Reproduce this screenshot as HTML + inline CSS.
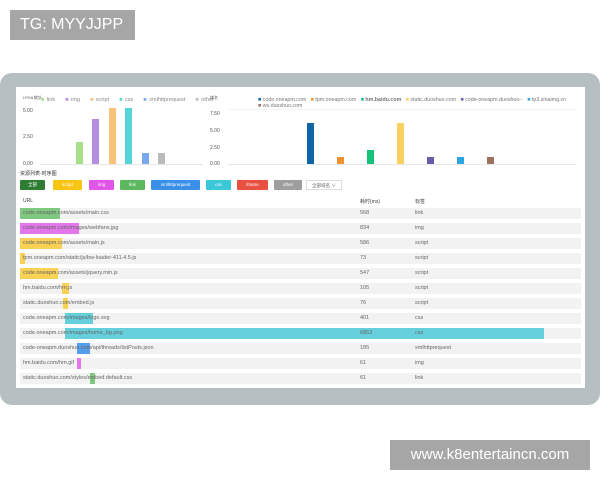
<!DOCTYPE html>
<html><head><meta charset="utf-8"><style>
body{margin:0;width:600px;height:480px;background:#fff;position:relative;overflow:hidden;font-family:"Liberation Sans","Noto Sans CJK SC",sans-serif;}
div{position:absolute;box-sizing:border-box}
.t{font-size:5px;color:#555;white-space:nowrap}
.row{left:20px;width:561px;height:11px;background:#f2f2f2}
.bar{height:11px;opacity:.85}
.rt{font-size:5.5px;color:#666;white-space:nowrap;line-height:11px}
.btn{top:180px;height:10px;font-size:4.5px;color:#fff;text-align:center;line-height:10px;border-radius:1px}
.b{width:7px}
</style></head><body>
<div style="left:10px;top:10px;width:125px;height:30px;background:#a6a6a6;color:#fff;font-size:16px;line-height:30px;padding-left:10px">TG: MYYJJPP</div>
<div style="left:390px;top:440px;width:200px;height:30px;background:#a6a6a6;color:#fff;font-size:15px;line-height:30px;text-align:center">www.k8entertaincn.com</div>
<div style="left:0;top:73px;width:600px;height:332px;background:#b5bfc1;border-radius:12px"></div>
<div style="left:16px;top:87px;width:569px;height:301px;background:#fff"></div>

<!-- left chart -->
<div class="t" style="left:23px;top:95px;font-size:4px">HTML統計</div>
<div class="t" style="left:41px;top:97px;color:#888;font-size:5.5px;word-spacing:1px">
<span style="color:#a8e08a">■</span> link &nbsp;&nbsp;&nbsp;<span style="color:#b58ee0">■</span> img &nbsp;&nbsp;&nbsp;<span style="color:#f8c27a">■</span> script &nbsp;&nbsp;&nbsp;<span style="color:#55d5d8">■</span> css &nbsp;&nbsp;&nbsp;<span style="color:#7aa8ee">■</span> xmlhttprequest &nbsp;&nbsp;&nbsp;<span style="color:#bbb">■</span> other</div>
<div class="t" style="left:23px;top:108px">5.00</div>
<div class="t" style="left:23px;top:134px">2.50</div>
<div class="t" style="left:23px;top:161px">0.00</div>
<div style="left:40px;top:164px;width:163px;height:1px;background:#e5e5e5"></div>
<div class="b" style="left:76px;top:142px;height:22px;background:#a8e08a"></div>
<div class="b" style="left:92px;top:119px;height:45px;background:#b58ee0"></div>
<div class="b" style="left:109px;top:108px;height:56px;background:#f8c27a"></div>
<div class="b" style="left:125px;top:108px;height:56px;background:#55d5d8"></div>
<div class="b" style="left:142px;top:153px;height:11px;background:#7aa8ee"></div>
<div class="b" style="left:158px;top:153px;height:11px;background:#bbb"></div>

<!-- right chart -->
<div class="t" style="left:210px;top:95px;font-size:4px">域名</div>
<div class="t" style="left:258px;top:97px;color:#777;font-size:5.3px">
<span style="color:#1065a8">■</span> code.oneapm.com &nbsp;&nbsp;<span style="color:#f0932f">■</span> tpm.oneapm.com &nbsp;&nbsp;<span style="color:#18c27a">■</span> <b>hm.baidu.com</b> &nbsp;&nbsp;<span style="color:#fcd060">■</span> static.duoshuo.com &nbsp;&nbsp;<span style="color:#6b5aa8">■</span> code-oneapm.duoshuo-- &nbsp;&nbsp;<span style="color:#2ba6e0">■</span> tp3.sinaimg.cn</div>
<div class="t" style="left:258px;top:103px;color:#777;font-size:5.3px"><span style="color:#a0705e">■</span> ws.duoshuo.com</div>
<div class="t" style="left:210px;top:111px">7.50</div>
<div class="t" style="left:210px;top:128px">5.00</div>
<div class="t" style="left:210px;top:145px">2.50</div>
<div class="t" style="left:210px;top:161px">0.00</div>
<div style="left:228px;top:164px;width:348px;height:1px;background:#e5e5e5"></div>
<div style="left:228px;top:109px;width:348px;height:1px;background:#f3f3f3"></div>
<div class="b" style="left:307px;top:123px;height:41px;background:#1065a8"></div>
<div class="b" style="left:337px;top:157px;height:7px;background:#f0932f"></div>
<div class="b" style="left:367px;top:150px;height:14px;background:#18c27a"></div>
<div class="b" style="left:397px;top:123px;height:41px;background:#fcd060"></div>
<div class="b" style="left:427px;top:157px;height:7px;background:#6b5aa8"></div>
<div class="b" style="left:457px;top:157px;height:7px;background:#2ba6e0"></div>
<div class="b" style="left:487px;top:157px;height:7px;background:#a0705e"></div>

<div class="t" style="left:20px;top:170px;font-size:5px;color:#333">资源列表-时序图</div>
<div class="btn" style="left:20px;width:25px;background:#2e7d32">全部</div>
<div class="btn" style="left:53px;width:29px;background:#f9c515">script</div>
<div class="btn" style="left:89px;width:25px;background:#e056e8">img</div>
<div class="btn" style="left:120px;width:25px;background:#5cb85c">link</div>
<div class="btn" style="left:151px;width:49px;background:#3a8fe8">xmlhttprequest</div>
<div class="btn" style="left:206px;width:25px;background:#3ac8d8">css</div>
<div class="btn" style="left:237px;width:31px;background:#e8503f">iframe</div>
<div class="btn" style="left:274px;width:28px;background:#9e9e9e">other</div>
<div class="btn" style="left:306px;width:36px;background:#fff;border:0.5px solid #ddd;color:#666">全部域名 ∨</div>

<div class="t" style="left:23px;top:198px;color:#444">URL</div>
<div class="t" style="left:360px;top:198px;color:#444">耗时(ms)</div>
<div class="t" style="left:415px;top:198px;color:#444">标签</div>

<div class="row" style="top:208px"></div><div class="bar" style="left:20px;top:208px;width:40px;background:#6cbf6c"></div>
<div class="row" style="top:223px"></div><div class="bar" style="left:20px;top:223px;width:59px;background:#e060ea"></div>
<div class="row" style="top:238px"></div><div class="bar" style="left:20px;top:238px;width:42px;background:#f9cb3a"></div>
<div class="row" style="top:253px"></div><div class="bar" style="left:20px;top:253px;width:5px;background:#f9cb3a"></div>
<div class="row" style="top:268px"></div><div class="bar" style="left:20px;top:268px;width:38px;background:#f9cb3a"></div>
<div class="row" style="top:283px"></div><div class="bar" style="left:62px;top:283px;width:7px;background:#f9cb3a"></div>
<div class="row" style="top:298px"></div><div class="bar" style="left:63px;top:298px;width:5px;background:#f9cb3a"></div>
<div class="row" style="top:313px"></div><div class="bar" style="left:65px;top:313px;width:28px;background:#4ccad8"></div>
<div class="row" style="top:328px"></div><div class="bar" style="left:65px;top:328px;width:479px;background:#4ccad8"></div>
<div class="row" style="top:343px"></div><div class="bar" style="left:77px;top:343px;width:13px;background:#3a8fe8"></div>
<div class="row" style="top:358px"></div><div class="bar" style="left:77px;top:358px;width:4px;background:#e060ea"></div>
<div class="row" style="top:373px"></div><div class="bar" style="left:90px;top:373px;width:5px;background:#6cbf6c"></div>

<div class="rt" style="left:23px;top:208px">code.oneapm.com/assets/main.css</div><div class="rt" style="left:360px;top:208px">568</div><div class="rt" style="left:415px;top:208px">link</div>
<div class="rt" style="left:23px;top:223px">code.oneapm.com/images/webfans.jpg</div><div class="rt" style="left:360px;top:223px">834</div><div class="rt" style="left:415px;top:223px">img</div>
<div class="rt" style="left:23px;top:238px">code.oneapm.com/assets/main.js</div><div class="rt" style="left:360px;top:238px">586</div><div class="rt" style="left:415px;top:238px">script</div>
<div class="rt" style="left:23px;top:253px">tpm.oneapm.com/static/js/bw-loader-411.4.5.js</div><div class="rt" style="left:360px;top:253px">73</div><div class="rt" style="left:415px;top:253px">script</div>
<div class="rt" style="left:23px;top:268px">code.oneapm.com/assets/jquery.min.js</div><div class="rt" style="left:360px;top:268px">547</div><div class="rt" style="left:415px;top:268px">script</div>
<div class="rt" style="left:23px;top:283px">hm.baidu.com/hm.js</div><div class="rt" style="left:360px;top:283px">105</div><div class="rt" style="left:415px;top:283px">script</div>
<div class="rt" style="left:23px;top:298px">static.duoshuo.com/embed.js</div><div class="rt" style="left:360px;top:298px">76</div><div class="rt" style="left:415px;top:298px">script</div>
<div class="rt" style="left:23px;top:313px">code.oneapm.com/images/logo.svg</div><div class="rt" style="left:360px;top:313px">401</div><div class="rt" style="left:415px;top:313px">css</div>
<div class="rt" style="left:23px;top:328px">code.oneapm.com/images/home_bg.png</div><div class="rt" style="left:360px;top:328px">6853</div><div class="rt" style="left:415px;top:328px">css</div>
<div class="rt" style="left:23px;top:343px">code-oneapm.duoshuo.com/api/threads/listPosts.json</div><div class="rt" style="left:360px;top:343px">185</div><div class="rt" style="left:415px;top:343px">xmlhttprequest</div>
<div class="rt" style="left:23px;top:358px">hm.baidu.com/hm.gif</div><div class="rt" style="left:360px;top:358px">61</div><div class="rt" style="left:415px;top:358px">img</div>
<div class="rt" style="left:23px;top:373px">static.duoshuo.com/styles/embed.default.css</div><div class="rt" style="left:360px;top:373px">61</div><div class="rt" style="left:415px;top:373px">link</div>
</body></html>
